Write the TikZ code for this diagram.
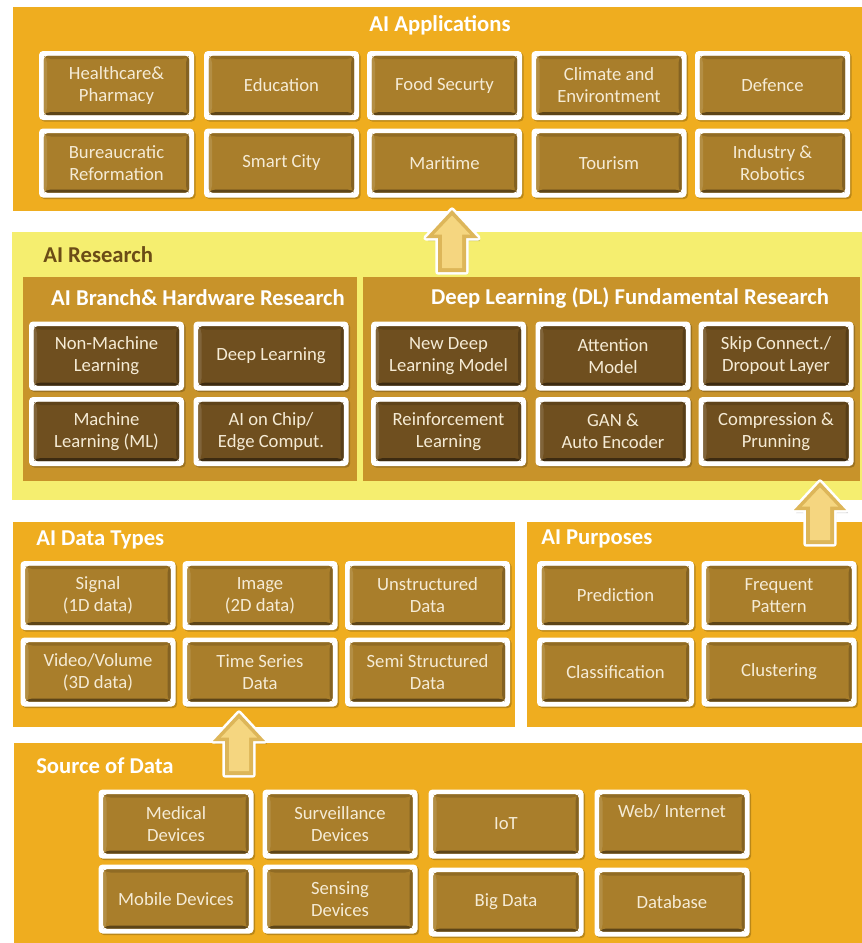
\documentclass[tikz,border=0pt]{standalone}
\usepackage{fontspec}
\setmainfont{Carlito}
\usetikzlibrary{calc}

\definecolor{panelOrange}{HTML}{EFAD1F}
\definecolor{panelYellow}{HTML}{F5EE6F}
\definecolor{panelGold}{HTML}{C8932A}
\definecolor{tileLight}{HTML}{A97E2B}
\definecolor{tileDark}{HTML}{6F4F1F}
\definecolor{titleBrown}{HTML}{6B4C16}
\definecolor{tileText}{HTML}{F5EBD5}
\definecolor{arrowEdge}{HTML}{DDB659}
\definecolor{arrowFace}{HTML}{F5D680}

% bevelled inner face of a tile, drawn inside its white frame
\newcommand\tilebevel[1]{%
  \coordinate (tsw) at ([shift={(3.6pt,3.6pt)}]path picture bounding box.south west);
  \coordinate (tne) at ([shift={(-3.6pt,-3.6pt)}]path picture bounding box.north east);
  \coordinate (tse) at (tsw -| tne);
  \coordinate (tnw) at (tsw |- tne);
  \fill[#1] (tsw) rectangle (tne);
  \fill[#1!55!black] (tsw) -- (tse) -- ([shift={(-2.4pt,2.4pt)}]tse) -- ([shift={(2.4pt,2.4pt)}]tsw) -- cycle;
  \fill[#1!78!black] (tse) -- (tne) -- ([shift={(-2.4pt,-2.4pt)}]tne) -- ([shift={(-2.4pt,2.4pt)}]tse) -- cycle;
  \fill[#1!85!black] (tnw) -- (tne) -- ([shift={(-2.4pt,-2.4pt)}]tne) -- ([shift={(2.4pt,-2.4pt)}]tnw) -- cycle;
  \fill[#1!88!white] (tsw) -- (tnw) -- ([shift={(2.4pt,-2.4pt)}]tnw) -- ([shift={(2.4pt,2.4pt)}]tsw) -- cycle;
}

\tikzset{
  panel/.style={rectangle, inner sep=0pt, draw=none},
  tile/.style={rectangle, rounded corners=3pt, fill=white, inner sep=2pt,
    minimum width=116.25pt, minimum height=51.75pt, align=center,
    text=tileText, font=\fontsize{14}{16.5}\selectfont,
    preaction={fill=black, opacity=0.22, transform canvas={shift={(1.2pt,-1.2pt)}}},
    path picture={\tilebevel{#1}}},
  headW/.style={text=white, font=\bfseries\fontsize{17}{20}\selectfont, inner sep=0pt},
  headB/.style={text=titleBrown, font=\bfseries\fontsize{17}{20}\selectfont, inner sep=0pt},
  uparrow/.pic={
    \fill[black, opacity=0.2] (2,2) -- (28,31) -- (16,31) -- (16,64) -- (-12,64) -- (-12,31) -- (-24,31) -- cycle;
    \path[draw=white, fill=white, line width=4pt, line join=round]
      (0,0) -- (26,28) -- (14,28) -- (14,62) -- (-14,62) -- (-14,28) -- (-26,28) -- cycle;
    \fill[arrowEdge] (0,0) -- (26,28) -- (14,28) -- (14,62) -- (-14,62) -- (-14,28) -- (-26,28) -- cycle;
    \fill[arrowFace] (0,5.5) -- (18,24.5) -- (10,24.5) -- (10,58) -- (-10,58) -- (-10,24.5) -- (-18,24.5) -- cycle;
  }
}

\begin{document}
\begin{tikzpicture}[x=0.75pt, y=-0.75pt]
\useasboundingbox (0,0) rectangle (862,943);
\fill[white] (0,0) rectangle (862,943);

% ---------- panels ----------
\node[panel, fill=panelOrange, minimum width=636.75pt, minimum height=153pt] (apps) at (437.5,109) {};
\node[panel, fill=panelYellow, minimum width=637.5pt, minimum height=201pt] (research) at (437,366) {};
\node[panel, fill=panelGold, minimum width=250.5pt, minimum height=153pt] (branch) at (190,379) {};
\node[panel, fill=panelGold, minimum width=372.75pt, minimum height=153pt] (dlres) at (611.5,379) {};
\node[panel, fill=panelOrange, minimum width=376.5pt, minimum height=153.75pt] (dtypes) at (264,624.5) {};
\node[panel, fill=panelOrange, minimum width=251.25pt, minimum height=153.75pt] (purposes) at (694.5,624.5) {};
\node[panel, fill=panelOrange, minimum width=636pt, minimum height=150pt] (source) at (438,843) {};

% ---------- titles ----------
\node[headW] (tApps) at (440,25) {AI Applications};
\node[headB, anchor=west] (tRes) at (43,255) {AI Research};
\node[headW] (tBranch) at (198,298) {AI Branch\& Hardware Research};
\node[headW] (tDL) at (630,298) {Deep Learning (DL) Fundamental Research};
\node[headW, anchor=west] (tTypes) at (36,540) {AI Data Types};
\node[headW, anchor=west] (tPurp) at (541,539) {AI Purposes};
\node[headW, anchor=west] (tSrc) at (36,766) {Source of Data};

% ---------- AI applications ----------
\node[tile=tileLight] (a1) at (116.5,85.5) {Healthcare\&\\Pharmacy};
\node[tile=tileLight] (a2) at (281.5,85.5) {Education};
\node[tile=tileLight] (a3) at (444.5,85.5) {Food Securty};
\node[tile=tileLight] (a4) at (609,85.5) {Climate and\\Environtment};
\node[tile=tileLight] (a5) at (772.5,85.5) {Defence};
\node[tile=tileLight] (a6) at (116.5,163) {Bureaucratic\\Reformation};
\node[tile=tileLight] (a7) at (281.5,163) {Smart City};
\node[tile=tileLight] (a8) at (444.5,163) {Maritime};
\node[tile=tileLight] (a9) at (609,163) {Tourism};
\node[tile=tileLight] (a10) at (772.5,163) {Industry \&\\Robotics};

% ---------- AI branch & hardware research ----------
\node[tile=tileDark] (b1) at (106.5,356) {Non-Machine\\Learning};
\node[tile=tileDark] (b2) at (271,356) {Deep Learning};
\node[tile=tileDark] (b3) at (106.5,431.5) {Machine\\Learning (ML)};
\node[tile=tileDark] (b4) at (271,431.5) {AI on Chip/\\Edge Comput.};

% ---------- DL fundamental research ----------
\node[tile=tileDark] (d1) at (448.5,356) {New Deep\\Learning Model};
\node[tile=tileDark] (d2) at (613,356) {Attention\\Model};
\node[tile=tileDark] (d3) at (776,356) {Skip Connect./\\Dropout Layer};
\node[tile=tileDark] (d4) at (448.5,431.5) {Reinforcement\\Learning};
\node[tile=tileDark] (d5) at (613,431.5) {GAN \&\\Auto Encoder};
\node[tile=tileDark] (d6) at (776,431.5) {Compression \&\\Prunning};

% ---------- AI data types ----------
\node[tile=tileLight] (t1) at (98,595.5) {Signal\\(1D data)};
\node[tile=tileLight] (t2) at (260,595.5) {Image\\(2D data)};
\node[tile=tileLight, minimum width=123.75pt] (t3) at (427.5,595.5) {Unstructured\\Data};
\node[tile=tileLight] (t4) at (98,672) {Video/Volume\\(3D data)};
\node[tile=tileLight] (t5) at (260,672) {Time Series\\Data};
\node[tile=tileLight, minimum width=123.75pt] (t6) at (427.5,672) {Semi Structured\\Data};

% ---------- AI purposes ----------
\node[tile=tileLight, minimum width=117.75pt] (p1) at (615.5,595.5) {Prediction};
\node[tile=tileLight] (p2) at (779,595.5) {Frequent\\Pattern};
\node[tile=tileLight, minimum width=117.75pt] (p3) at (615.5,672) {Classification};
\node[tile=tileLight] (p4) at (779,672) {Clustering};

% ---------- source of data ----------
\node[tile=tileLight] (s1) at (176,824) {Medical\\Devices};
\node[tile=tileLight] (s2) at (340,824) {Surveillance\\Devices};
\node[tile=tileLight] (s3) at (506,824) {IoT};
\node[tile=tileLight] (s4) at (672,824) {Web/ Internet\\\phantom{Xy}};
\node[tile=tileLight] (s5) at (176,899) {Mobile Devices};
\node[tile=tileLight] (s6) at (340,899) {Sensing\\Devices};
\node[tile=tileLight] (s7) at (506,902) {Big Data};
\node[tile=tileLight] (s8) at (672,902) {Database};

% ---------- flow arrows between layers ----------
\coordinate (upApps) at (452,210);
\coordinate (upRes) at (820,482);
\coordinate (upTypes) at (239,713);
\pic at (upApps) {uparrow};
\pic at (upRes) {uparrow};
\pic at (upTypes) {uparrow};
\end{tikzpicture}
\end{document}
